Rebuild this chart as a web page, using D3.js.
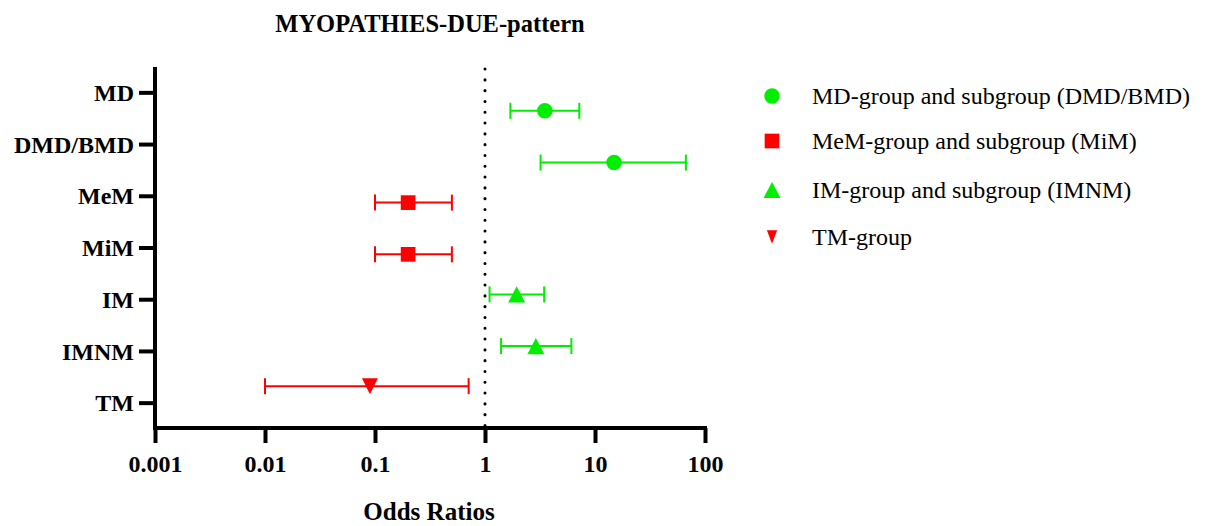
<!DOCTYPE html>
<html><head><meta charset="utf-8">
<script src="https://cdn.jsdelivr.net/npm/d3@7"></script>
<style>body{margin:0;background:#fff}svg{display:block}</style>
</head><body>
<script>
const categories = ["MD","DMD/BMD","MeM","MiM","IM","IMNM","TM"];
const seriesNames = ["MD-group and subgroup (DMD/BMD)","MeM-group and subgroup (MiM)","IM-group and subgroup (IMNM)","TM-group"];
const seriesColors = ["#00ee00","#ff0000","#00ee00","#ff0000"];
const seriesSymbols = ["circle","square","triangle","triangleDown"];
// each point: category, series index, OR, lower CI, upper CI
const pointCategory = ["MD","DMD/BMD","MeM","MiM","IM","IMNM","TM"];
const pointSeries   = [0,0,1,1,2,2,3];
const oddsRatio = [3.5, 14.9, 0.20, 0.20, 1.94, 2.9, 0.09];
const ciLower   = [1.7, 3.2, 0.10, 0.10, 1.10, 1.4, 0.01];
const ciUpper   = [7.2, 67, 0.50, 0.50, 3.45, 6.1, 0.71];
const xTicks = [0.001,0.01,0.1,1,10,100];
const xTickLabels = ["0.001","0.01","0.1","1","10","100"];

const W=1217,H=526;
const svg=d3.select("body").append("svg").attr("width",W).attr("height",H);
const pLeft=155,pRight=705,pTop=67,pBottom=428;
const x=d3.scaleLog().domain([0.001,100]).range([pLeft,pRight]);
const y=d3.scaleBand().domain(categories).range([pTop,pBottom+1]);
const sub=d3.scalePoint().domain([0,1,2,3]).range([18,-17]);
const serif="'Liberation Serif','Times New Roman',serif";

svg.append("text").attr("x",430).attr("y",32).attr("text-anchor","middle")
  .style("font-family",serif).style("font-weight","bold").style("font-size","24.5px").text("MYOPATHIES-DUE-pattern");

// reference line at 1
svg.append("line").attr("x1",x(1)).attr("x2",x(1)).attr("y1",pTop+2).attr("y2",pBottom)
  .attr("stroke","#000").attr("stroke-width",3).attr("stroke-linecap","round").attr("stroke-dasharray","0.1 10.7");

// x axis
const xa=svg.append("g").attr("transform",`translate(0,${pBottom})`)
  .call(d3.axisBottom(x).tickValues(xTicks).tickFormat((d,i)=>xTickLabels[i]).tickSize(15).tickSizeOuter(0));
xa.select(".domain").attr("stroke-width",4).attr("d",`M${pLeft-2},0H${pRight+2}`);
xa.selectAll(".tick line").attr("stroke-width",4);
xa.selectAll(".tick text").attr("dy",0).attr("y",43.5).style("font-family",serif).style("font-weight","bold").style("font-size","24px");

// y axis
const ya=svg.append("g").attr("transform",`translate(${pLeft},0)`)
  .call(d3.axisLeft(y).tickSize(16).tickSizeOuter(0));
ya.select(".domain").attr("stroke-width",4).attr("d",`M0,${pTop}V${pBottom+2}`);
ya.selectAll(".tick line").attr("stroke-width",4);
ya.selectAll(".tick text").attr("x",-21).attr("dy","0.34em").style("font-family",serif).style("font-weight","bold").style("font-size","24px");

svg.append("text").attr("x",429).attr("y",520).attr("text-anchor","middle")
  .style("font-family",serif).style("font-weight","bold").style("font-size","25px").text("Odds Ratios");

// custom triangles: size = width, bbox-centred
const triUp={draw(ctx,s){const w=s,h=s*0.95;ctx.moveTo(0,-h/2);ctx.lineTo(w/2,h/2);ctx.lineTo(-w/2,h/2);ctx.closePath();}};
const triDown={draw(ctx,s){const w=s,h=s;ctx.moveTo(0,h/2);ctx.lineTo(w/2,-h/2);ctx.lineTo(-w/2,-h/2);ctx.closePath();}};
const triDownNarrow={draw(ctx,s){const w=s*0.75,h=s;ctx.moveTo(0,h/2);ctx.lineTo(w/2,-h/2);ctx.lineTo(-w/2,-h/2);ctx.closePath();}};
const symMap={circle:d3.symbolCircle,square:d3.symbolSquare,triangle:triUp,triangleDown:triDown};
const symSize={circle:189,square:216,triangle:17,triangleDown:16};
function sym(name,k,type){return d3.symbol().type(type||symMap[name]).size(symSize[name]*(k||1))();}

const pts=pointCategory.map((c,i)=>({c,s:pointSeries[i],or:oddsRatio[i],lo:ciLower[i],hi:ciUpper[i]}));
const g=svg.append("g");
pts.forEach(p=>{
  const cy=y(p.c)+y.bandwidth()/2+sub(p.s);
  const col=seriesColors[p.s];
  g.append("line").attr("x1",x(p.lo)).attr("x2",x(p.hi)).attr("y1",cy).attr("y2",cy).attr("stroke",col).attr("stroke-width",2);
  [p.lo,p.hi].forEach(v=>g.append("line").attr("x1",x(v)).attr("x2",x(v)).attr("y1",cy-8).attr("y2",cy+8).attr("stroke",col).attr("stroke-width",2));
  const nm=seriesSymbols[p.s];
  g.append("path").attr("d",sym(nm)).attr("fill",col)
   .attr("transform",`translate(${x(p.or)},${cy})`);
});

// legend
const legY=[96,141,190,237];
const lg=svg.append("g");
seriesNames.forEach((n,i)=>{
  const nm=seriesSymbols[i];
  lg.append("path").attr("d",sym(nm,nm==="triangleDown"?0.85:1,nm==="triangleDown"?triDownNarrow:null)).attr("fill",seriesColors[i])
    .attr("transform",`translate(772,${legY[i]})`);
  lg.append("text").attr("x",812).attr("y",legY[i]).attr("dy","0.34em")
    .style("font-family",serif).style("font-size","24px").text(n);
});
</script>
</body></html>
